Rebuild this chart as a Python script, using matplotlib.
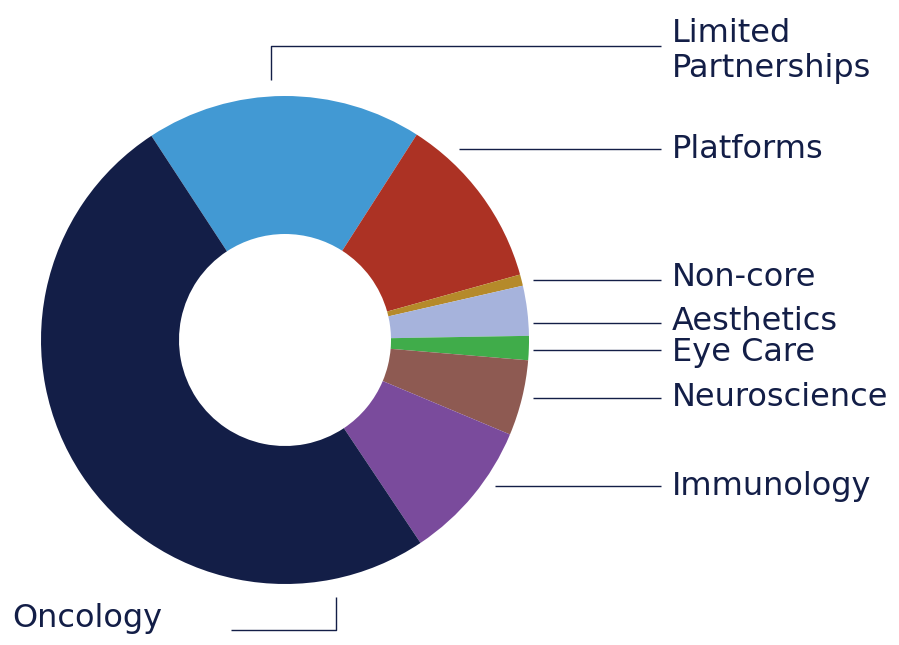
import matplotlib

matplotlib.use("Agg")

import matplotlib.pyplot as plt

# Segment shares (%), clockwise from the top-left
labels = ["Limited\nPartnerships", "Platforms", "Non-core", "Aesthetics",
          "Eye Care", "Neuroscience", "Immunology", "Oncology"]
shares = [18.3, 11.6, 0.75, 3.3, 1.6, 5.0, 9.3, 50.15]
colors = ["#4299D3", "#AC3224", "#B58A2A", "#A6B3DC",
          "#40AC4A", "#8E5A52", "#7A4B9C", "#131E47"]

navy = "#131E47"
W, H = 899, 645

fig = plt.figure(figsize=(W / 100, H / 100), dpi=100)
ax = fig.add_axes([0, 0, 1, 1])

# Donut
cx, cy, r = 285, H - 340, 244
ax.pie(
    shares,
    colors=colors,
    startangle=123.2,
    counterclock=False,
    center=(cx, cy),
    radius=r,
    wedgeprops=dict(width=r - 106, edgecolor="none"),
    frame=True,
)
ax.set_xlim(0, W)
ax.set_ylim(0, H)
ax.set_aspect("equal")
ax.axis("off")


def py(y):
    # pixel row -> data y
    return H - y


line_kw = dict(color=navy, lw=1.0, solid_capstyle="butt")
text_kw = dict(color=navy, fontsize=23, va="center", family="DejaVu Sans")

# Leader lines: (x start, line y, text y)
leaders = {
    "Platforms": (459, 149, 149),
    "Non-core": (533, 280, 278),
    "Aesthetics": (533, 323, 322),
    "Eye Care": (533, 350, 352),
    "Neuroscience": (533, 398, 398),
    "Immunology": (495, 486, 487),
}
for name, (x0, yl, yt) in leaders.items():
    ax.plot([x0, 661], [py(yl), py(yl)], **line_kw)
    ax.text(672, py(yt), name, ha="left", **text_kw)

# Limited Partnerships: elbow up then right
ax.plot([271, 271, 661], [py(80), py(46), py(46)], **line_kw)
ax.text(672, py(51), labels[0], ha="left", linespacing=1.15, **text_kw)

# Oncology: elbow down then left
ax.plot([336, 336, 231], [py(597), py(630), py(630)], **line_kw)
ax.text(12, py(618), "Oncology", ha="left", **text_kw)

fig.savefig("out.png", dpi=100)
plt.close(fig)
